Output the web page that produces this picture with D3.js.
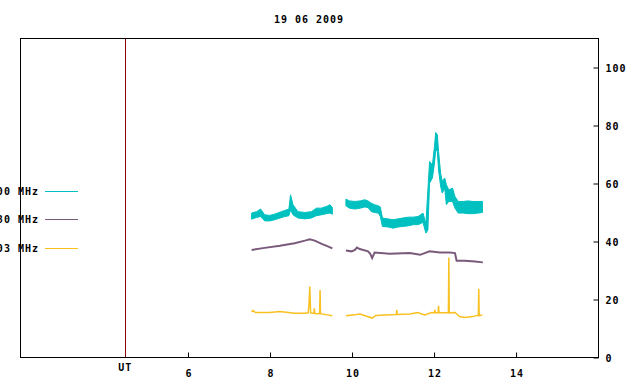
<!DOCTYPE html>
<html>
<head>
<meta charset="utf-8">
<script src="https://cdn.jsdelivr.net/npm/d3@7"></script>
<style>
  body { margin: 0; background: #fff; }
  text { font-family: "DejaVu Sans Mono", monospace; font-weight: bold; font-size: 10px; letter-spacing: 1px; fill: #000; }
</style>
</head>
<body>
<div id="chart"></div>
<script>
// chart texts
var titleText = "19 06 2009";
var legendLabels = ["2800 MHz", "1080 MHz", "1503 MHz"];
var xTickValues = [6, 8, 10, 12, 14];
var yTickValues = [0, 20, 40, 60, 80, 100];
var utHour = 4.47;

// cyan channel: noisy band, read as upper / lower envelope (null = data gap)
var cyanHours = [7.55,7.67,7.77,7.87,7.99,8.11,8.24,8.36,8.46,8.50,8.56,8.68,8.85,9.01,9.13,9.25,9.38,9.46,9.52,
  9.70,
  9.85,9.94,10.07,10.20,10.31,10.39,10.47,10.55,10.64,10.69,10.74,10.88,11.00,11.12,11.24,11.37,11.49,11.61,11.73,11.80,
  11.85,11.89,11.96,12.01,12.04,12.08,12.11,12.16,12.20,12.26,12.30,12.36,12.45,12.51,12.59,12.71,12.83,12.95,13.07,13.18];
var cyanHigh = [49.8,50.3,51.2,49.2,49.0,49.4,50.1,50.7,51.2,56.1,52.7,50.3,50.0,50.3,51.5,51.5,52.1,52.7,51.7,
  null,
  54.6,54.0,53.8,54.0,54.4,54.0,53.2,52.7,52.3,51.9,48.1,47.8,47.5,47.8,48.1,48.4,48.4,48.6,49.8,46.1,
  57.8,67.6,66.4,72.8,77.6,76.8,71.0,63.6,60.7,61.9,59.6,57.8,58.4,55.5,53.8,53.8,54.0,53.8,53.8,53.8];
var cyanLow = [47.7,48.3,48.6,47.1,47.1,47.5,48.1,48.6,48.9,50.9,49.2,48.1,47.8,48.1,48.9,49.2,49.6,49.8,49.4,
  null,
  52.3,51.5,51.2,51.5,51.9,51.7,50.3,50.0,49.8,48.6,45.2,45.0,44.6,45.0,45.2,45.4,45.8,45.8,46.6,42.9,
  44.0,60.1,61.9,67.0,71.6,71.0,64.7,59.0,56.7,58.4,52.7,53.8,53.8,51.5,49.8,49.8,49.6,49.6,49.8,50.0];

// purple channel
var purpleHours = [7.55,7.87,8.24,8.60,8.85,8.97,9.09,9.26,9.41,9.52,
  9.70,
  9.85,9.99,10.07,10.12,10.19,10.39,10.44,10.49,10.55,10.92,11.41,11.66,11.89,12.14,12.38,12.51,12.55,12.75,13.00,13.19];
var purpleValues = [37.1,37.8,38.5,39.4,40.3,40.8,40.3,39.2,38.3,37.6,
  null,
  36.9,36.6,37.1,37.9,37.4,36.6,35.8,34.3,36.2,35.8,36.0,35.4,36.6,36.2,36.2,36.0,33.4,33.4,33.1,32.8];

// yellow channel
var yellowHours = [7.55,7.58,7.65,7.99,8.24,8.60,8.85,8.93,8.95,8.97,8.99,9.07,9.08,9.09,9.21,9.22,9.23,9.40,9.52,
  9.70,
  9.85,10.07,10.19,10.49,10.58,10.92,11.08,11.09,11.10,11.41,11.60,11.77,11.94,12.01,12.02,12.03,12.10,12.11,12.12,12.16,
  12.35,12.36,12.37,12.51,12.62,12.75,12.94,13.07,13.08,13.09,13.10,13.18];
var yellowValues = [15.7,16.2,15.5,15.5,15.9,15.3,15.3,15.4,18.2,24.5,15.4,15.2,17.0,15.2,15.1,23.3,15.1,14.7,14.4,
  null,
  14.4,14.7,15.0,13.6,14.5,14.7,14.8,16.4,14.8,15.0,15.5,14.7,15.5,15.4,16.4,15.4,15.4,17.8,15.4,15.4,
  15.4,34.5,15.4,15.5,14.1,13.8,14.1,14.6,14.6,23.7,14.4,14.7];

var colors = ["#00c0c0", "#7a5a7a", "#f8c020"];

// set the dimensions of the plot frame
var W = 640, H = 384;
var frame = {left: 20.5, right: 598.5, top: 38.5, bottom: 357.5};

var svg = d3.select("#chart")
  .append("svg")
    .attr("width", W)
    .attr("height", H);

var x = d3.scaleLinear().domain([1.915, 16.01]).range([frame.left, frame.right]);
var y = d3.scaleLinear().domain([0, 110]).range([frame.bottom, frame.top]);

// title
svg.append("text")
  .attr("x", 309)
  .attr("y", 22.5)
  .attr("text-anchor", "middle")
  .text(titleText);

// clip for data
svg.append("defs").append("clipPath")
    .attr("id", "clip")
  .append("rect")
    .attr("x", frame.left).attr("y", frame.top)
    .attr("width", frame.right - frame.left).attr("height", frame.bottom - frame.top);

var plot = svg.append("g").attr("clip-path", "url(#clip)");

// UT marker line
var utX = Math.round(x(utHour)) + 0.5;
plot.append("line")
  .attr("x1", utX).attr("x2", utX)
  .attr("y1", frame.top).attr("y2", frame.bottom)
  .attr("stroke", "#8b0000")
  .attr("stroke-width", 1);

// cyan band
var cyanData = cyanHours.map(function(h, i) { return {h: h, lo: cyanLow[i], hi: cyanHigh[i]}; });
plot.append("path")
  .datum(cyanData)
  .attr("fill", colors[0])
  .attr("stroke", colors[0])
  .attr("stroke-width", 1)
  .attr("d", d3.area()
    .defined(function(d) { return d.lo != null; })
    .x(function(d) { return x(d.h); })
    .y0(function(d) { return y(d.lo); })
    .y1(function(d) { return y(d.hi); })
  );

// purple and yellow lines
var lineSeries = [
  {hours: purpleHours, values: purpleValues, color: colors[1], width: 2},
  {hours: yellowHours, values: yellowValues, color: colors[2], width: 1.5}
];
lineSeries.forEach(function(s) {
  var pts = s.hours.map(function(h, i) { return {h: h, v: s.values[i]}; });
  plot.append("path")
    .datum(pts)
    .attr("fill", "none")
    .attr("stroke", s.color)
    .attr("stroke-width", s.width)
    .attr("d", d3.line()
      .defined(function(d) { return d.v != null; })
      .x(function(d) { return x(d.h); })
      .y(function(d) { return y(d.v); })
    );
});

// bottom axis (ticks pointing inward)
var xAxis = svg.append("g")
  .attr("transform", "translate(0," + frame.bottom + ")")
  .call(d3.axisBottom(x).tickValues(xTickValues).tickSize(-5).tickFormat(d3.format("d")));
xAxis.select(".domain").remove();
xAxis.selectAll("text").attr("y", 19.5).attr("dy", null).attr("dx", "0.5px");

svg.append("text")
  .attr("x", x(utHour))
  .attr("y", 371)
  .attr("text-anchor", "middle")
  .text("UT");

// right axis
var yAxis = svg.append("g")
  .attr("transform", "translate(" + frame.right + ",0)")
  .call(d3.axisRight(y).tickValues(yTickValues).tickSize(-5).tickPadding(7));
yAxis.select(".domain").remove();
yAxis.selectAll("text").attr("dy", "0.38em");

// frame
svg.append("rect")
  .attr("x", frame.left).attr("y", frame.top)
  .attr("width", frame.right - frame.left).attr("height", frame.bottom - frame.top)
  .attr("fill", "none")
  .attr("stroke", "#000")
  .attr("stroke-width", 1);

// legend
var legendY = [191.5, 219.5, 248.5];
var legendItems = legendLabels.map(function(label, i) {
  return {label: label, color: colors[i], y: legendY[i]};
});
var legend = svg.append("g").selectAll("g")
  .data(legendItems)
  .enter()
  .append("g");
legend.append("text")
  .attr("x", 39)
  .attr("y", function(d) { return d.y; })
  .attr("dy", "0.38em")
  .attr("text-anchor", "end")
  .text(function(d) { return d.label; });
legend.append("path")
  .attr("d", function(d) { return "M45," + d.y + "H78"; })
  .style("stroke", function(d) { return d.color; })
  .style("stroke-width", 1.2)
  .style("fill", "none");
</script>
</body>
</html>
